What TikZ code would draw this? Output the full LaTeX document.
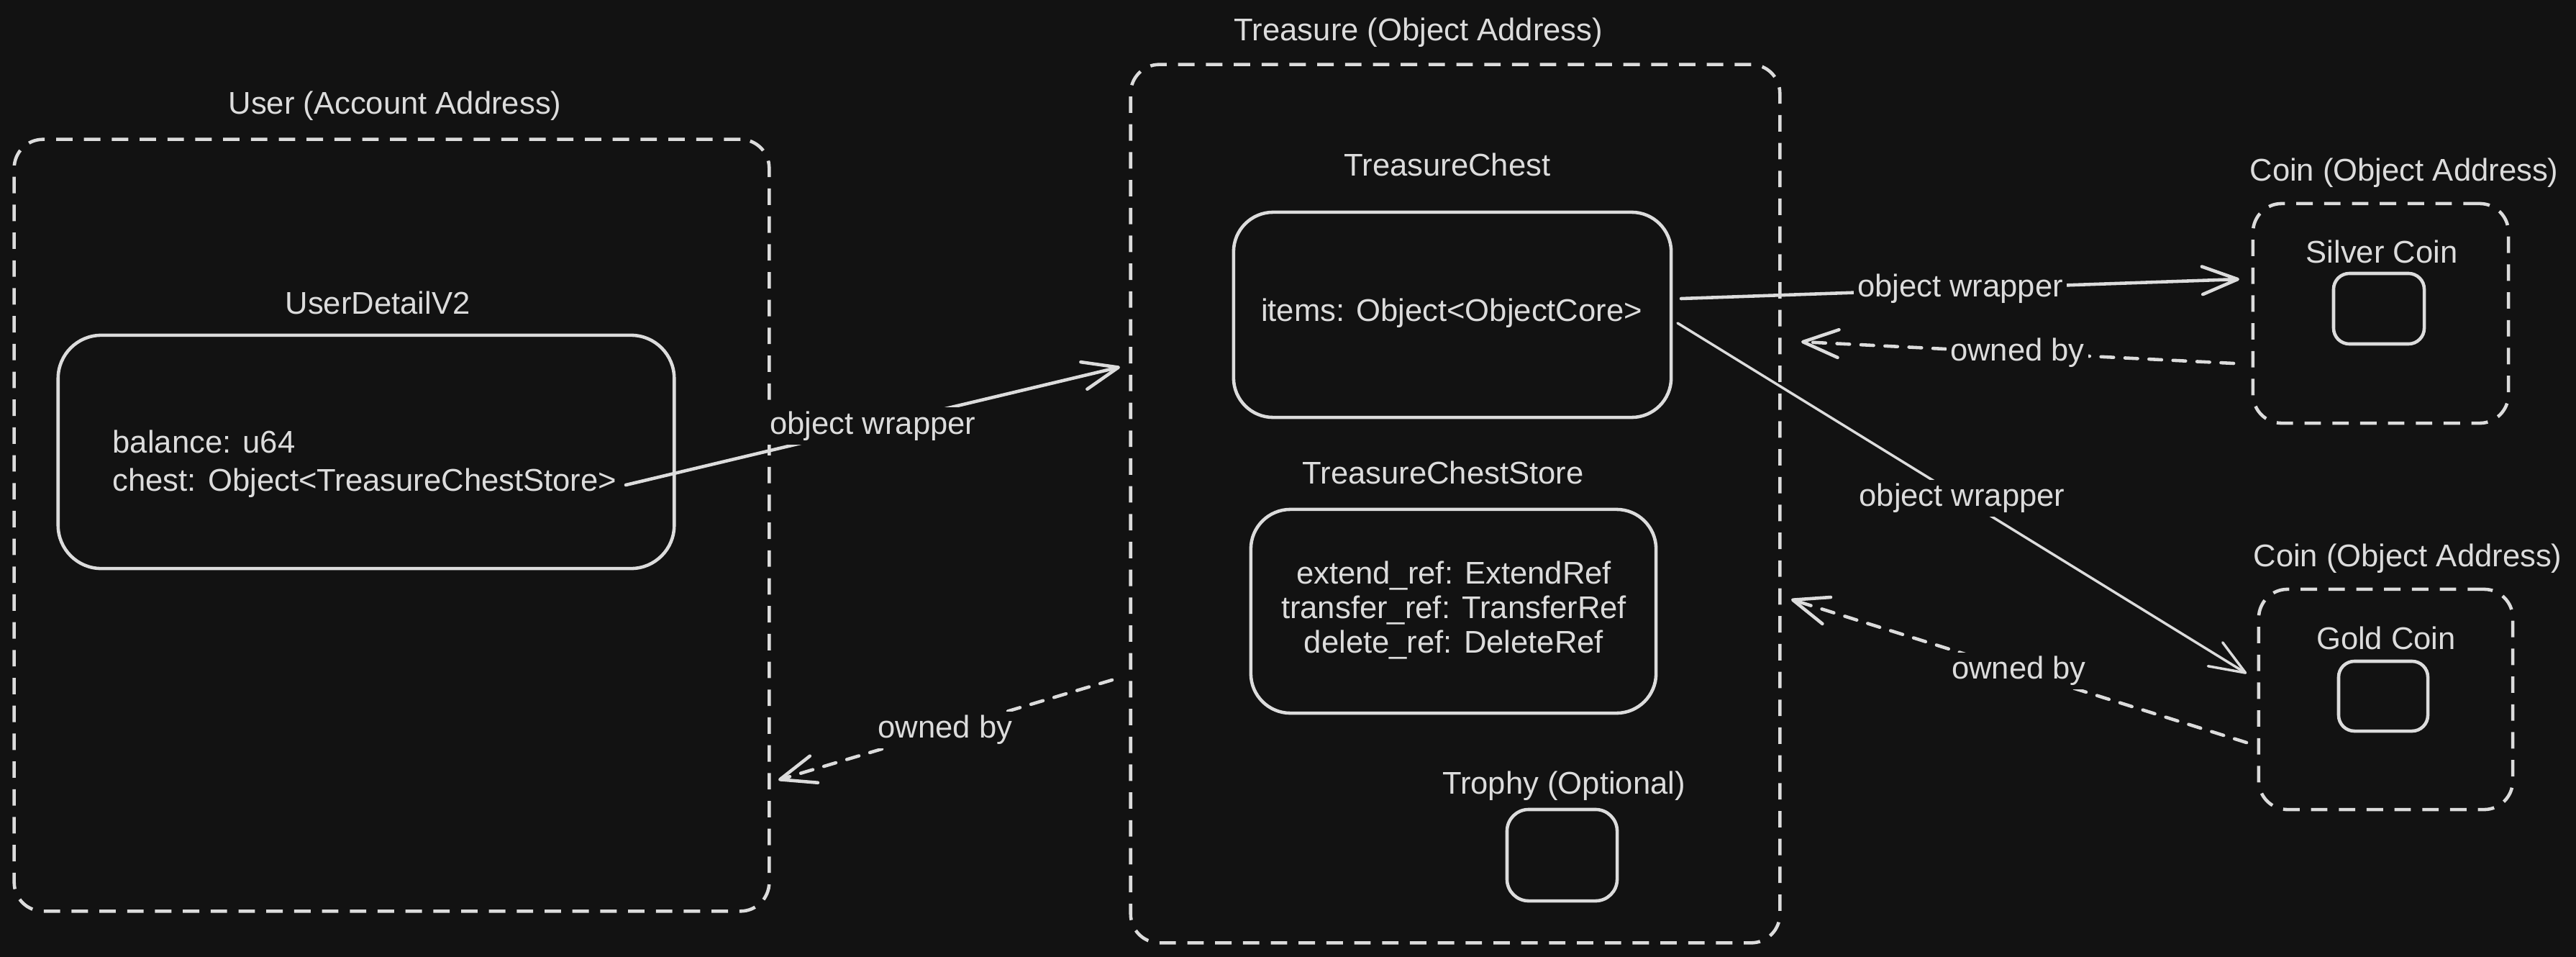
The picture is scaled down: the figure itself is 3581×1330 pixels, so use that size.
\documentclass[tikz,border=0pt]{standalone}
\usepackage{fontspec}
\setmainfont{Liberation Sans}
\usetikzlibrary{arrows.meta,calc}
\definecolor{bg}{HTML}{121212}
\definecolor{ink}{HTML}{DCDCDC}
\begin{document}
\begin{tikzpicture}[x=0.01cm,y=-0.01cm,
  every node/.style={text=ink, font=\fontsize{12.4}{15}\selectfont},
  grp/.style={draw=ink, line width=1.3pt, dash pattern=on 6.5pt off 4.5pt, rounded corners=0.4cm, inner sep=0pt, outer sep=0pt},
  rec/.style={draw=ink, line width=1.3pt, rounded corners=#1, inner sep=0pt, outer sep=0pt},
  rec/.default=0.55cm,
  conn/.style={draw=ink, line width=1.3pt, line cap=round, -{Straight Barb[length=14pt,width=11pt,round]}},
  own/.style={conn, dash pattern=on 5pt off 4.5pt},
  lbl/.style={fill=bg, inner sep=1.5pt}
]
\path[fill=bg] (0,0) rectangle (3581,1330);

% group boxes
\node[grp, minimum width=10.49cm, minimum height=10.72cm] (userbox) at (544.5,730) {};
\node[grp, minimum width=9.02cm, minimum height=12.2cm] (treasure) at (2023,700) {};
\node[grp, minimum width=3.55cm, minimum height=3.05cm] (silverbox) at (3309.5,435.5) {};
\node[grp, minimum width=3.53cm, minimum height=3.06cm] (goldbox) at (3316.5,972) {};

% group titles
\node (usertitle) at (549,147) {User (Account Address)};
\node (treasuretitle) at (1972,45) {Treasure (Object Address)};
\node (silvertitle) at (3342,240) {Coin (Object Address)};
\node (goldtitle) at (3347,776) {Coin (Object Address)};

% user detail
\node (udtitle) at (525,421) {UserDetailV2};
\node[rec=0.6cm, minimum width=8.56cm, minimum height=3.24cm] (userdet) at (509,628) {};
\node[anchor=west, align=left, inner sep=0pt] (usertext) at (156,644.5) {balance: u64\\chest: Object<TreasureChestStore>};

% treasure chest
\node (chesttitle) at (2012,229) {TreasureChest};
\node[rec=0.55cm, minimum width=6.08cm, minimum height=2.85cm] (chest) at (2019,437.5) {};
\node (chesttext) at (2018,435) {items: Object<ObjectCore>};

% store
\node (storetitle) at (2006,657) {TreasureChestStore};
\node[rec=0.55cm, minimum width=5.63cm, minimum height=2.83cm] (store) at (2020.5,849.5) {};
\node[align=center, font=\fontsize{12.4}{13.7}\selectfont] (storetext) at (2021,848) {extend\_ref: ExtendRef\\transfer\_ref: TransferRef\\delete\_ref: DeleteRef};

% trophy
\node (trophytitle) at (2174,1092) {Trophy (Optional)};
\node[rec=0.3cm, minimum width=1.53cm, minimum height=1.27cm] (trophy) at (2171.5,1188.5) {};

% coins
\node (silvername) at (3311,350) {Silver Coin};
\node[rec=0.22cm, minimum width=1.26cm, minimum height=0.98cm] (silver) at (3307,429) {};
\node (goldname) at (3317,887) {Gold Coin};
\node[rec=0.22cm, minimum width=1.24cm, minimum height=0.97cm] (gold) at (3313,967.5) {};

% connector ends
\coordinate (aS) at (870,674);
\coordinate (aE) at (1557,510);
\coordinate (bS) at (2337,415);
\coordinate (bE) at (3113,388);
\coordinate (cS) at (3105,505);
\coordinate (cE) at (2504,475);
\coordinate (dS) at (2332,449);
\coordinate (dE) at (3123,936);
\coordinate (eS) at (3123,1032);
\coordinate (eE) at (2490,833);
\coordinate (fS) at (1546,945);
\coordinate (fE) at (1082,1084);

\draw[conn] (aS) -- node[lbl] {object wrapper} (aE);
\draw[conn] (bS) -- node[lbl] {object wrapper} (bE);
\draw[own] (cS) -- node[lbl] {owned by} (cE);
\draw[conn, line width=1pt] (dS) -- node[lbl] {object wrapper} (dE);
\draw[own] (eS) -- node[lbl] {owned by} (eE);
\draw[own] (fS) -- node[lbl] {owned by} (fE);
\end{tikzpicture}
\end{document}
